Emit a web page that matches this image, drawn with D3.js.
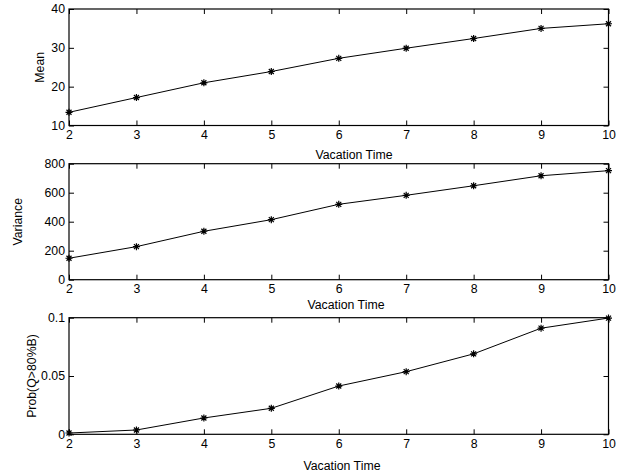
<!DOCTYPE html>
<html>
<head>
<meta charset="utf-8">
<script src="https://cdn.jsdelivr.net/npm/d3@7"></script>
<style>
  body { margin: 0; background: #fff; }
  svg { display: block; font-family: "Liberation Sans", Arial, sans-serif; }
</style>
</head>
<body>
<svg id="chart" width="626" height="473"></svg>
<script>
// vacation time values (x axis, shared by all 3 panels)
var vacationTime = [2, 3, 4, 5, 6, 7, 8, 9, 10];

// series
var meanVals = [13.4, 17.2, 21.0, 23.9, 27.3, 29.9, 32.4, 35.0, 36.2];
var varianceVals = [148, 228, 334, 414, 520, 582, 648, 717, 752];
var probVals = [0.0011, 0.0037, 0.014, 0.0223, 0.0414, 0.0537, 0.069, 0.091, 0.0997];

var meanTicks = [10, 20, 30, 40];
var varianceTicks = [0, 200, 400, 600, 800];
var probTicks = [0, 0.05, 0.1];

var panels = [
  {vals: meanVals, ticks: meanTicks, dom: [10, 40], top: 9, bottom: 125.5,
   ylabel: "Mean", ylabX: 40, xlabX: 354, xlabY: 159},
  {vals: varianceVals, ticks: varianceTicks, dom: [0, 800], top: 163.7, bottom: 279.7,
   ylabel: "Variance", ylabX: 18, xlabX: 346, xlabY: 309},
  {vals: probVals, ticks: probTicks, dom: [0, 0.1], top: 317.7, bottom: 434.3,
   ylabel: "Prob(Q>80%B)", ylabX: 32, xlabX: 342, xlabY: 470}
];

var svg = d3.select("#chart");
var left = 69, right = 608.5;
var fs = "12.3px";
var plain = function(d){return String(d);};//matlab style: 0, 0.05, 0.1

var x = d3.scaleLinear().domain([2, 10]).range([left, right]);

panels.forEach(function(p){
  var y = d3.scaleLinear().domain(p.dom).range([p.bottom, p.top]);
  var g = svg.append("g");
  var H = p.bottom - p.top, W = right - left;

  // ticks inward, mirrored on opposite sides
  g.append("g").attr("transform", "translate(0," + p.bottom + ")")
    .call(d3.axisBottom(x).tickValues(vacationTime).tickSizeInner(-5).tickSizeOuter(0).tickPadding(5).tickFormat(plain));
  g.append("g").attr("transform", "translate(0," + p.top + ")")
    .call(d3.axisTop(x).tickValues(vacationTime).tickSizeInner(-5).tickSizeOuter(0).tickFormat(""));
  g.append("g").attr("transform", "translate(" + left + ",0)")
    .call(d3.axisLeft(y).tickValues(p.ticks).tickSizeInner(-5).tickSizeOuter(0).tickPadding(4).tickFormat(plain));
  g.append("g").attr("transform", "translate(" + right + ",0)")
    .call(d3.axisRight(y).tickValues(p.ticks).tickSizeInner(-5).tickSizeOuter(0).tickFormat(""));

  g.selectAll(".domain").remove();
  g.selectAll(".tick line").attr("stroke", "#000").attr("stroke-width", 1);
  g.selectAll(".tick text").attr("fill", "#000").style("font-size", fs);

  // box
  g.append("rect").attr("x", left).attr("y", p.top).attr("width", W).attr("height", H)
    .attr("fill", "none").attr("stroke", "#000").attr("stroke-width", 1.2);

  var line = d3.line().x(function(d, i){return x(vacationTime[i]);}).y(function(d){return y(d);});
  g.append("path").datum(p.vals).attr("d", line)
    .attr("fill", "none").attr("stroke", "#000").attr("stroke-width", 1);

  // asterisk markers
  var star = "M-3.5,0L3.5,0M0,-3.5L0,3.5M-2.5,-2.5L2.5,2.5M-2.5,2.5L2.5,-2.5";
  g.selectAll(".mk").data(p.vals).enter().append("path")
    .attr("class", "mk")
    .attr("transform", function(d, i){return "translate(" + x(vacationTime[i]) + "," + y(d) + ")";})
    .attr("d", star).attr("stroke", "#000").attr("stroke-width", 1.2).attr("fill", "none");

  g.append("text").attr("x", p.xlabX).attr("y", p.xlabY).attr("text-anchor", "middle")
    .style("font-size", fs).text("Vacation Time");

  g.append("text")
    .attr("transform", "translate(" + p.ylabX + "," + ((p.top + p.bottom) / 2) + ") rotate(-90)")
    .attr("text-anchor", "middle").attr("dy", "0.35em")
    .style("font-size", fs).text(p.ylabel);
});
</script>
</body>
</html>
